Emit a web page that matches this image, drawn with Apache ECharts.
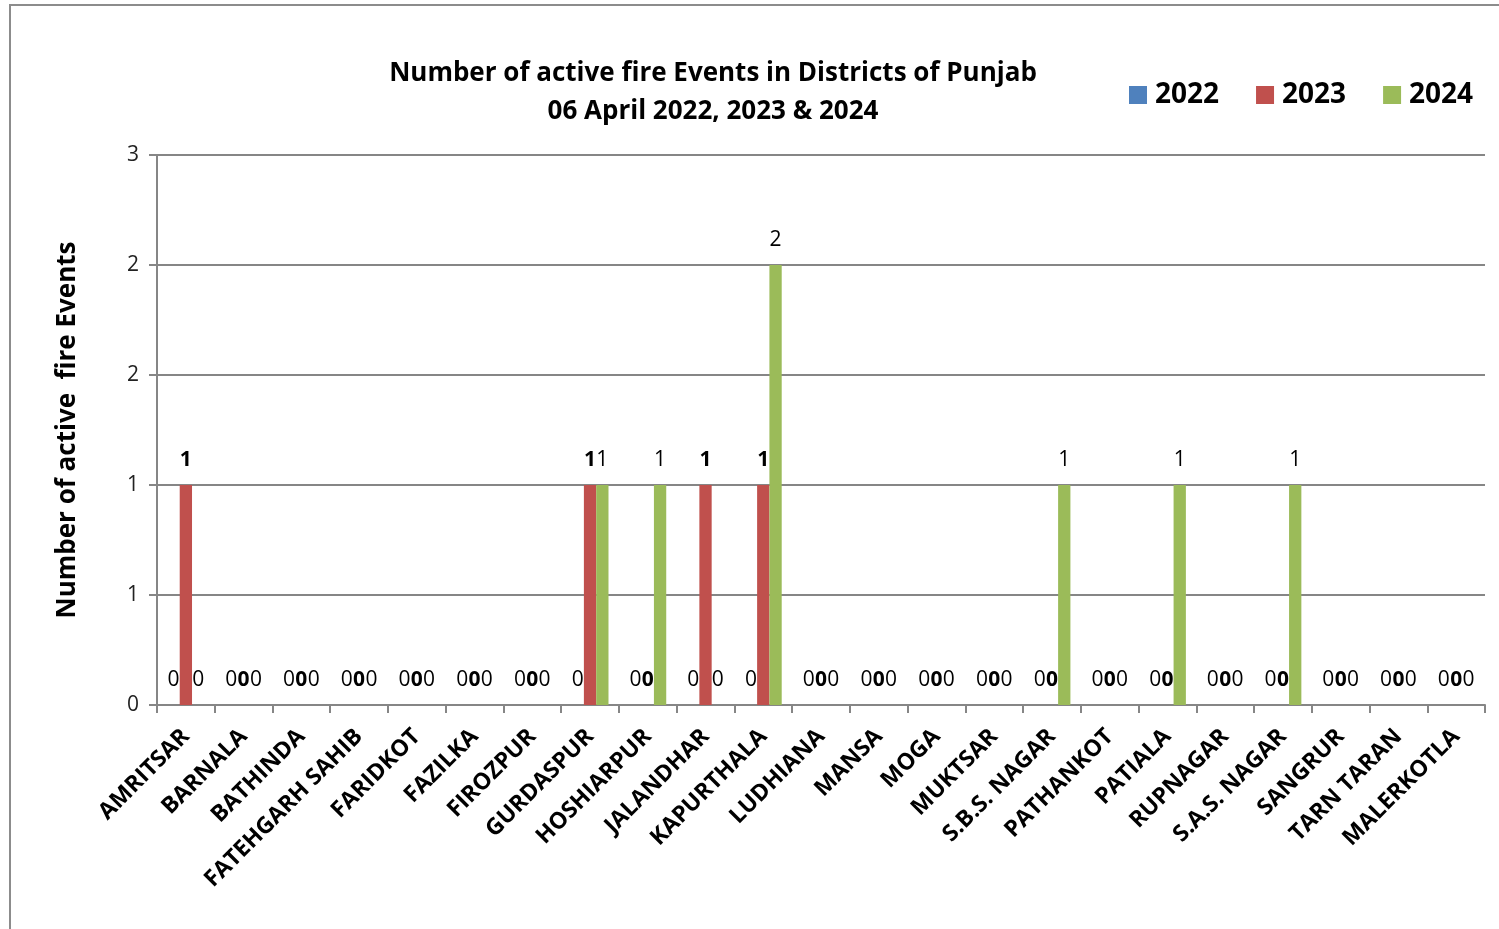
<!DOCTYPE html>
<html>
<head>
<meta charset="utf-8">
<script src="https://cdn.jsdelivr.net/npm/echarts@6/dist/echarts.min.js"></script>
<style>html,body{margin:0;padding:0;background:#fff;}#c{width:1499px;height:929px;}</style>
</head>
<body>
<div id="c"></div>
<script>
var districts = ["AMRITSAR","BARNALA","BATHINDA","FATEHGARH SAHIB","FARIDKOT","FAZILKA","FIROZPUR","GURDASPUR","HOSHIARPUR","JALANDHAR","KAPURTHALA","LUDHIANA","MANSA","MOGA","MUKTSAR","S.B.S. NAGAR","PATHANKOT","PATIALA","RUPNAGAR","S.A.S. NAGAR","SANGRUR","TARN TARAN","MALERKOTLA"];
var v2022 = [0,0,0,0,0,0,0,0,0,0,0,0,0,0,0,0,0,0,0,0,0,0,0];
var v2023 = [1,0,0,0,0,0,0,1,0,1,1,0,0,0,0,0,0,0,0,0,0,0,0];
var v2024 = [0,0,0,0,0,0,0,1,1,0,2,0,0,0,0,1,0,1,0,1,0,0,0];
var seriesNames = ["2022","2023","2024"];
var colors = ["#4F81BD","#C0504D","#9BBB59"];
</script>
<script>
var FONT = "'Open Sans', sans-serif";
var chart = echarts.init(document.getElementById('c'));
function mk(name, data, color, bold){
  return {
    name: name, type: 'bar', data: data, barWidth: 12.3, barGap: '0%',
    itemStyle: {color: color},
    label: {show: true, position: 'top', distance: 14, fontFamily: FONT, fontSize: 21,
      fontWeight: bold ? 'bold' : 'normal', color: '#000'}
  };
}
chart.setOption({
  animation: false,
  color: colors,
  textStyle: {fontFamily: FONT},
  graphic: [{type: 'rect', shape: {x: 10, y: 5, width: 1520, height: 960},
    style: {fill: 'none', stroke: '#8c8c8c', lineWidth: 2}, z: -1}],
  title: {
    text: 'Number of active fire Events in Districts of Punjab\n06 April 2022, 2023 & 2024',
    left: 708, top: 50, textAlign: 'center',
    textStyle: {fontFamily: FONT, fontSize: 26, fontWeight: 'bold', color: '#000', lineHeight: 38}
  },
  legend: {
    data: seriesNames, left: 1124, top: 76, itemWidth: 18, itemHeight: 18, itemGap: 37,
    icon: 'rect',
    textStyle: {fontFamily: FONT, fontSize: 28, fontWeight: 'bold', color: '#000', padding: [0,0,0,3]}
  },
  grid: {left: 157, right: 14, top: 155, bottom: 224, containLabel: false},
  xAxis: {
    type: 'category', data: districts,
    axisLine: {lineStyle: {color: '#868686', width: 2}},
    axisTick: {show: true, length: 8, alignWithLabel: false, lineStyle: {color: '#868686', width: 2}},
    axisLabel: {rotate: 45, interval: 0, margin: 28, fontFamily: FONT, fontSize: 23, fontWeight: 'bold', color: '#000'}
  },
  yAxis: {
    type: 'value', min: 0, max: 2.5, interval: 0.5,
    name: 'Number of active  fire Events', nameLocation: 'middle', nameGap: 76, nameRotate: 90,
    nameTextStyle: {fontFamily: FONT, fontSize: 26, fontWeight: 'bold', color: '#000'},
    axisLine: {show: true, lineStyle: {color: '#868686', width: 2}},
    axisTick: {show: true, length: 8, lineStyle: {color: '#868686', width: 2}},
    splitLine: {lineStyle: {color: '#868686', width: 2}},
    axisLabel: {margin: 18, fontFamily: FONT, fontSize: 21, color: '#222',
      formatter: function(v){ return String(Math.round(v)); }}
  },
  series: [mk(seriesNames[0], v2022, colors[0], false), mk(seriesNames[1], v2023, colors[1], true), mk(seriesNames[2], v2024, colors[2], false)]
});
</script>
</body>
</html>
